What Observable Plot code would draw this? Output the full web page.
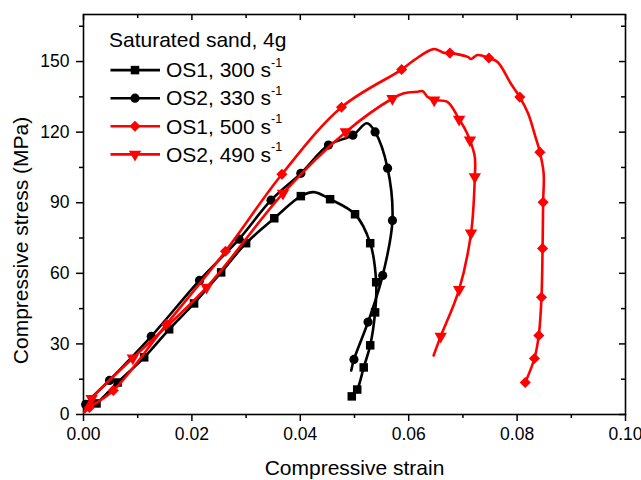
<!DOCTYPE html>
<html><head><meta charset="utf-8">
<script src="https://cdn.jsdelivr.net/npm/d3@7"></script>
<script src="https://cdn.jsdelivr.net/npm/@observablehq/plot@0.6"></script>
<style>body{margin:0;background:#fff}#chart svg{display:block}</style>
</head><body><div id="chart"></div>
<script>
// ---- data (strain, stress MPa) ----
const xLabel = "Compressive strain";
const yLabel = "Compressive stress (MPa)";
const legendTitle = "Saturated sand, 4g";
const seriesNames = ["OS1, 300 s", "OS2, 330 s", "OS1, 500 s", "OS2, 490 s"];
const seriesSup = "-1";
const xMajor = [0, 0.02, 0.04, 0.06, 0.08, 0.10];
const xMinor = [0.01, 0.03, 0.05, 0.07, 0.09];
const yMajor = [0, 30, 60, 90, 120, 150];
const yMinor = [15, 45, 75, 105, 135, 165];

const lineOS1_300 = [[0.0003,1.5],[0.0024,4.7],[0.0063,13.6],[0.0112,24.3],[0.0158,36.2],[0.0204,47.2],[0.0254,60.4],[0.0300,72.8],[0.0352,83.4],[0.0401,92.8],[0.0425,94.5],[0.0455,91.5],[0.0501,85.1],[0.0529,72.8],[0.0540,56.2],[0.0538,43.4],[0.0529,29.4],[0.0517,20.0],[0.0505,10.6],[0.0495,7.7]];
const markOS1_300 = [[0.0024,4.7],[0.0063,13.6],[0.0112,24.3],[0.0158,36.2],[0.0204,47.2],[0.0254,60.4],[0.0300,72.8],[0.0352,83.4],[0.0401,92.8],[0.0455,91.5],[0.0501,85.1],[0.0529,72.8],[0.0540,56.2],[0.0538,43.4],[0.0529,29.4],[0.0517,20.0],[0.0505,10.6],[0.0495,7.7]];

const lineOS2_330 = [[0.0002,2.0],[0.0004,4.3],[0.0048,14.5],[0.0125,33.2],[0.0214,57.0],[0.0287,74.5],[0.0346,91.1],[0.0401,102.5],[0.0452,114.5],[0.0497,118.7],[0.0523,123.8],[0.0538,120.1],[0.0561,104.7],[0.0570,82.5],[0.0552,59.1],[0.0525,39.3],[0.0499,23.4],[0.0494,18.7]];
const markOS2_330 = [[0.0004,4.3],[0.0048,14.5],[0.0125,33.2],[0.0214,57.0],[0.0287,74.5],[0.0346,91.1],[0.0401,102.5],[0.0452,114.5],[0.0497,118.7],[0.0538,120.1],[0.0561,104.7],[0.0570,82.5],[0.0552,59.1],[0.0525,39.3],[0.0499,23.4]];

const lineOS1_500 = [[0.0002,1.0],[0.0011,3.0],[0.0055,10.2],[0.0153,38.3],[0.0262,69.4],[0.0366,102.1],[0.0476,130.6],[0.0587,146.6],[0.0610,150.6],[0.0646,155.3],[0.0665,153.7],[0.0676,153.6],[0.0709,152.0],[0.0715,151.1],[0.0727,152.8],[0.0748,151.5],[0.0764,149.8],[0.0788,140.8],[0.0805,134.9],[0.0820,128.1],[0.0834,117.9],[0.0842,111.5],[0.0849,102.5],[0.0848,90.2],[0.0847,70.6],[0.0845,49.8],[0.0840,33.6],[0.0832,23.8],[0.0815,13.6]];
const markOS1_500 = [[0.0011,3.0],[0.0055,10.2],[0.0153,38.3],[0.0262,69.4],[0.0366,102.1],[0.0476,130.6],[0.0587,146.6],[0.0676,153.6],[0.0748,151.5],[0.0805,134.9],[0.0842,111.5],[0.0848,90.2],[0.0847,70.6],[0.0845,49.8],[0.0840,33.6],[0.0832,23.8],[0.0815,13.6]];

const lineOS2_490 = [[0.0002,1.5],[0.0015,6.8],[0.0091,24.0],[0.0227,54.0],[0.0368,94.0],[0.0484,120.1],[0.0570,134.3],[0.0591,136.5],[0.0617,137.2],[0.0626,137.4],[0.0635,134.9],[0.0647,133.6],[0.0672,132.8],[0.0693,125.4],[0.0702,122.1],[0.0713,116.6],[0.0722,109.4],[0.0722,101.0],[0.0715,77.1],[0.0693,53.1],[0.0659,33.2],[0.0646,25.1]];
const markOS2_490 = [[0.0015,6.8],[0.0091,24.0],[0.0227,54.0],[0.0368,94.0],[0.0484,120.1],[0.0570,134.3],[0.0647,133.6],[0.0693,125.4],[0.0713,116.6],[0.0722,101.0],[0.0715,77.1],[0.0693,53.1],[0.0659,33.2]];

// ---- styling ----
const FONT = "Liberation Sans, Arial, sans-serif";
const triDown = {draw(ctx, size) {
  const y = Math.sqrt(size / (Math.sqrt(3) * 3));
  ctx.moveTo(0, 2 * y); ctx.lineTo(-Math.sqrt(3) * y, -y); ctx.lineTo(Math.sqrt(3) * y, -y); ctx.closePath();
}};
const series = [
  {line: lineOS1_300, mark: markOS1_300, color: "#000000", symbol: d3.symbolSquare, r: 4.8},
  {line: lineOS2_330, mark: markOS2_330, color: "#000000", symbol: d3.symbolCircle, r: 4.6},
  {line: lineOS1_500, mark: markOS1_500, color: "#ff0000", symbol: d3.symbolDiamond2, r: 5.0},
  {line: lineOS2_490, mark: markOS2_490, color: "#ff0000", symbol: triDown, r: 4.6}
];

const W = 641, H = 480, ML = 83, MR = 16, MT = 14, MB = 66;
const FW = W - ML - MR, FH = H - MT - MB;

const marks = [
  Plot.axisX(xMajor, {tickSize: 7, tickPadding: 6, tickFormat: d3.format(".2f"), label: null, strokeWidth: 1.5}),
  Plot.tickX(xMinor, {x: d => d, insetTop: FH, insetBottom: -4, strokeWidth: 1.5}),
  Plot.tickX(xMajor, {x: d => d, insetBottom: FH - 6, strokeWidth: 1.5}),
  Plot.tickX(xMinor, {x: d => d, insetBottom: FH - 4, strokeWidth: 1.5}),
  Plot.axisY(yMajor, {tickSize: 7, tickPadding: 7, label: null, strokeWidth: 1.5}),
  Plot.tickY(yMinor, {y: d => d, insetRight: FW, insetLeft: -4, strokeWidth: 1.5}),
  Plot.tickY(yMajor, {y: d => d, insetLeft: FW - 6, strokeWidth: 1.5}),
  Plot.tickY(yMinor, {y: d => d, insetLeft: FW - 4, strokeWidth: 1.5}),
  Plot.frame({stroke: "#000", strokeWidth: 1.6}),
  Plot.text([xLabel], {frameAnchor: "bottom", dy: 60, lineAnchor: "bottom", fontSize: 21, text: d => d}),
  Plot.text([yLabel], {frameAnchor: "left", textAnchor: "middle", lineAnchor: "middle", rotate: -90, dx: -62, dy: 26, fontSize: 21, text: d => d})
];
for (const s of series) {
  marks.push(Plot.line(s.line, {x: "0", y: "1", stroke: s.color, strokeWidth: 2.6, curve: "catmull-rom"}));
  marks.push(Plot.dot(s.mark, {x: "0", y: "1", fill: s.color, stroke: "none", symbol: s.symbol, r: s.r}));
}

const svgEl = Plot.plot({
  width: W, height: H, marginLeft: ML, marginRight: MR, marginTop: MT, marginBottom: MB,
  x: {domain: [0, 0.1]},
  y: {domain: [0, 170]},
  style: {fontFamily: FONT, fontSize: "17.5px", color: "#000", background: "#fff", overflow: "visible"},
  marks
});
document.getElementById("chart").append(svgEl);

// ---- legend (layout in pixels) ----
const svg = d3.select(svgEl);
const lg = svg.append("g").attr("font-family", FONT).attr("fill", "#000").attr("text-anchor", "start");
lg.append("text").attr("x", 109).attr("y", 47.3).attr("font-size", 21).text(legendTitle);
series.forEach((s, i) => {
  const base = 77.3 + i * 28.1, ly = base - 7.2;
  lg.append("line").attr("x1", 110.5).attr("x2", 160).attr("y1", ly).attr("y2", ly)
    .attr("stroke", s.color).attr("stroke-width", 2.6);
  lg.append("path").attr("transform", `translate(135,${ly})`)
    .attr("d", d3.symbol(s.symbol, Math.PI * s.r * s.r)()).attr("fill", s.color);
  const t = lg.append("text").attr("x", 166).attr("y", base).attr("font-size", 21).text(seriesNames[i]);
  t.append("tspan").attr("dy", -10.5).attr("font-size", 12.5).text(seriesSup);
});
</script>
</body></html>
